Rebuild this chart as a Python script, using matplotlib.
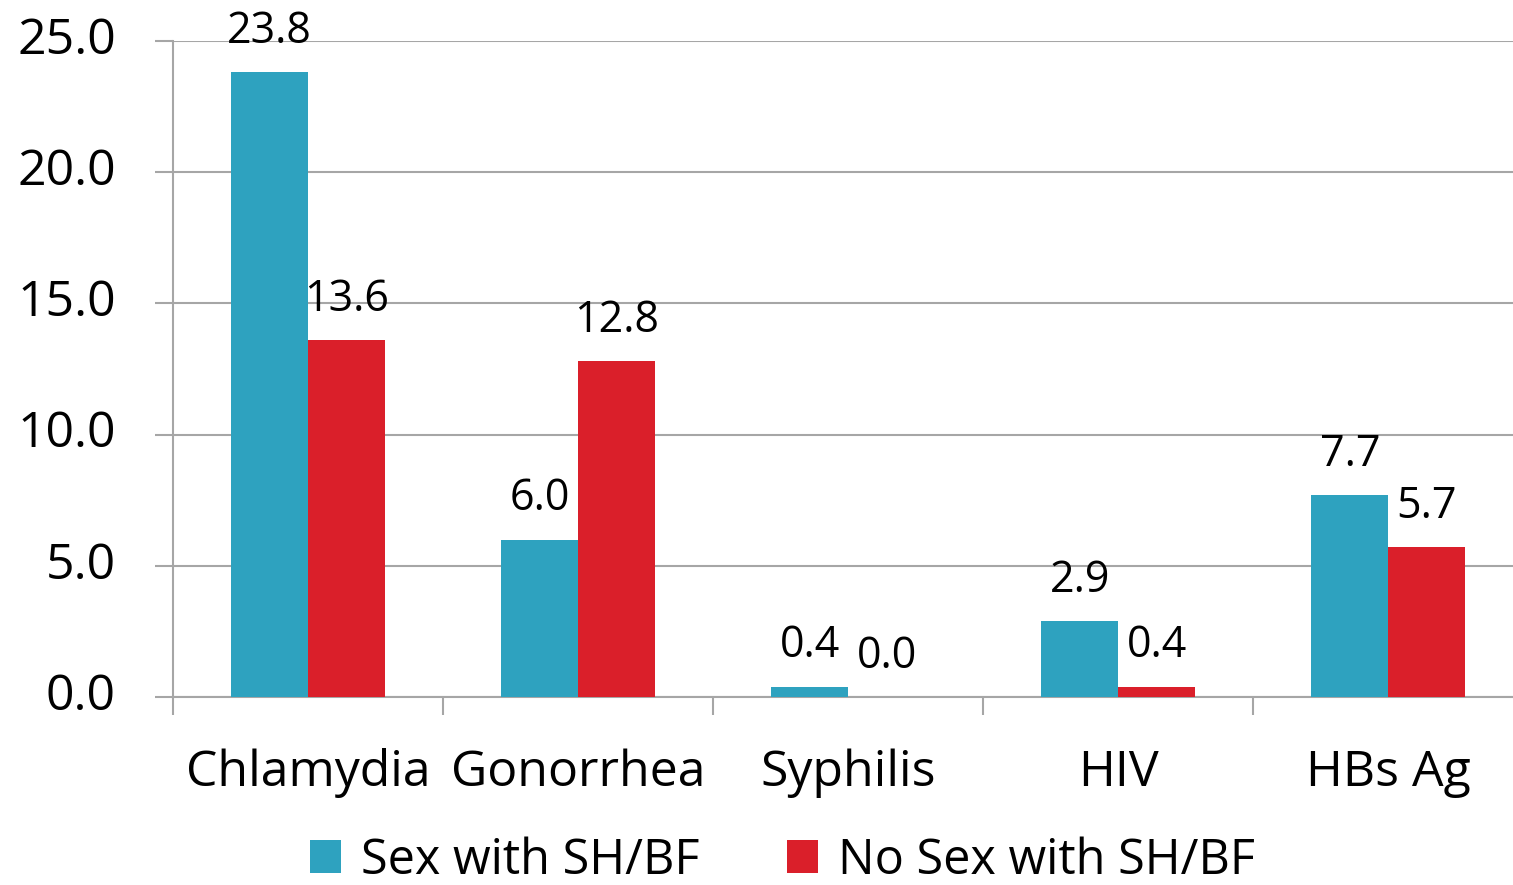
import numpy as np
import matplotlib.pyplot as plt
from matplotlib.transforms import ScaledTranslation

plt.rcParams['font.family'] = ['Open Sans', 'DejaVu Sans']

# data
categories = ['Chlamydia', 'Gonorrhea', 'Syphilis', 'HIV', 'HBs Ag']
sex_with = [23.8, 6.0, 0.4, 2.9, 7.7]
no_sex_with = [13.6, 12.8, 0.0, 0.4, 5.7]
series_names = ['Sex with SH/BF', 'No Sex with SH/BF']

teal = '#2ea2bf'
red = '#da1f2a'
grid_col = '#a6a6a6'

fig = plt.figure(figsize=(15.13, 8.85), dpi=100)
ax = fig.add_axes([0.1143, 0.2124, 0.886, 0.7413])

x = np.arange(len(categories))
w = 0.285
b1 = ax.bar(x - w / 2, sex_with, w, color=teal, label=series_names[0], zorder=3)
b2 = ax.bar(x + w / 2, no_sex_with, w, color=red, label=series_names[1], zorder=3)

# value labels
for bars, vals in ((b1, sex_with), (b2, no_sex_with)):
    for r, v in zip(bars, vals):
        ax.annotate(f'{v:.1f}', (r.get_x() + r.get_width() / 2, v),
                    xytext=(0, 21), textcoords='offset points',
                    ha='center', va='baseline', fontsize=31, zorder=4)

ax.set_yticks(np.arange(0, 26, 5))
ax.set_yticklabels([f'{t:.1f}' for t in np.arange(0, 26, 5)])
ax.grid(axis='y', color=grid_col, lw=1.5, zorder=0)

ax.set_xticks(x)
ax.set_xticklabels(categories)
ax.set_xticks(np.arange(-0.5, 4.5, 1), minor=True)
ax.set_ylim(0, 25)
ax.set_xlim(-0.5, 4.463)
ax.tick_params(axis='x', which='major', length=0, pad=37, labelsize=36)
ax.tick_params(axis='x', which='minor', length=13, width=1.5, color=grid_col)
ax.tick_params(axis='y', length=13, width=1.5, color=grid_col, pad=28, labelsize=36)

# nudge y labels up a little
shift = ScaledTranslation(0, 0.06, fig.dpi_scale_trans)
for lab in ax.get_yticklabels():
    lab.set_transform(lab.get_transform() + shift)

for s in ('top', 'right'):
    ax.spines[s].set_visible(False)
for s in ('left', 'bottom'):
    ax.spines[s].set_color(grid_col)
    ax.spines[s].set_linewidth(1.5)

fig.legend(handles=[b1, b2], loc='lower center', bbox_to_anchor=(0.517, -0.05),
           ncol=2, frameon=False, fontsize=35, handlelength=0.65, handleheight=0.65,
           handletextpad=0.4, columnspacing=1.8)

fig.savefig('out.png', dpi=100)
